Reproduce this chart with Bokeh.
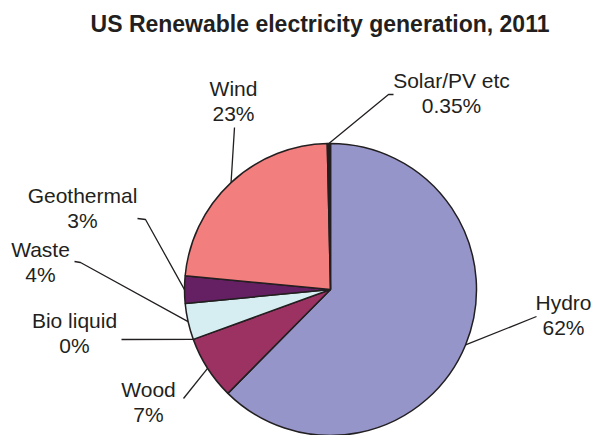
import numpy as np
from bokeh.plotting import figure
from bokeh.models import Range1d
from bokeh.core.properties import value
from bokeh.embed import file_html
from bokeh.resources import INLINE

# ---- data ----
names = ["Hydro", "Wood", "Bio liquid", "Waste", "Geothermal", "Wind", "Solar/PV etc"]
shares = [62, 7, 0, 4, 3, 23, 0.35]
colors = ["#9595C9", "#9B3262", "#FFFFFF", "#D6EEF2", "#642062", "#F27E7E", "#231F20"]
title = "US Renewable electricity generation, 2011"

# ---- layout (page pixel coordinates) ----
W, H = 595, 435
def X(ix):
    return ix
def Y(iy):
    return H - iy

CX, CY, R = X(330), Y(289), 146
label_x = [563, 148, 74, 40, 82, 233, 451]
label_base = [302, 389, 320, 249, 195, 88, 80]
leader_pts = [
    [(536, 316)],
    [(183, 398)],
    [(121, 339)],
    [(74, 261), (80, 262)],
    [(137, 218), (145, 219)],
    [(234, 127)],
    [(393, 94), (388, 94)],
]
LINE = 25
INK = "#231F20"
FONT = "Liberation Sans"

p = figure(width=W, height=H, x_range=Range1d(0, W), y_range=Range1d(0, H),
           output_backend="svg", toolbar_location=None, min_border=0,
           outline_line_color=None)
p.axis.visible = False
p.grid.visible = False
p.background_fill_color = "white"
p.border_fill_color = "white"

# angles: start at 12 o'clock, clockwise
frac = np.array(shares, dtype=float) / sum(shares) * 2 * np.pi
cum = np.concatenate([[0.0], np.cumsum(frac)])
top = np.pi / 2
start = top - cum[1:]
end = top - cum[:-1]
mid = top - (cum[:-1] + cum[1:]) / 2

keep = [i for i, s in enumerate(shares) if s > 0]
p.wedge(x=CX, y=CY, radius=R,
        start_angle=[start[i] for i in keep], end_angle=[end[i] for i in keep],
        direction="anticlock",
        fill_color=[colors[i] for i in keep], line_color=INK, line_width=1.5)

# leader lines
xs, ys = [], []
for i in range(len(names)):
    pts = leader_pts[i]
    lx = [X(a) for a, b in pts] + [CX + R * np.cos(mid[i])]
    ly = [Y(b) for a, b in pts] + [CY + R * np.sin(mid[i])]
    xs.append(lx)
    ys.append(ly)
p.multi_line(xs=xs, ys=ys, line_color=INK, line_width=1.3)

# labels
p.text(x=[X(v) for v in label_x], y=[Y(v) for v in label_base], text=names,
       text_align="center", text_baseline="alphabetic",
       text_font=value(FONT), text_font_size="21px", text_color=INK)
p.text(x=[X(v) for v in label_x], y=[Y(v) - LINE for v in label_base],
       text=[f"{s:g}%" for s in shares],
       text_align="center", text_baseline="alphabetic",
       text_font=value(FONT), text_font_size="21px", text_color=INK)

# title
p.text(x=[X(319.5)], y=[Y(23)], text=[title], text_align="center",
       text_baseline="alphabetic", text_font=value(FONT),
       text_font_size="23px", text_font_style="bold", text_color=INK)

open("out.html", "w").write(file_html(p, INLINE))
